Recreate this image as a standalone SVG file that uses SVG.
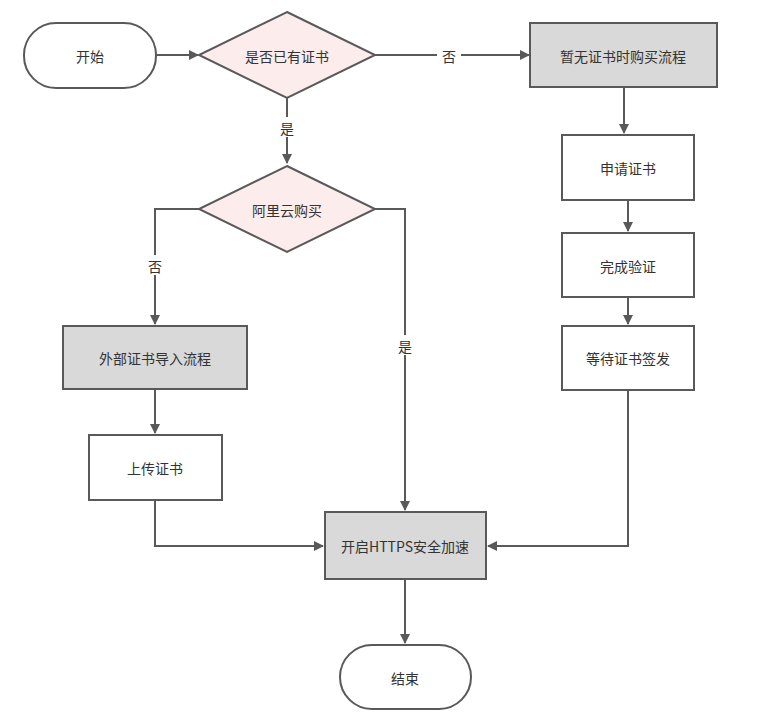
<svg xmlns="http://www.w3.org/2000/svg" width="780" height="719" viewBox="0 0 780 719">
<style>
.s{stroke:#595959;stroke-width:2}
.w{fill:#fff}.g{fill:#d9d9d9}.d{fill:#fdecec}
text{font-family:"Noto Sans CJK SC","Liberation Sans",sans-serif;font-size:14px;fill:#333;text-anchor:middle;dominant-baseline:central}
.c{fill:none;stroke:#595959;stroke-width:2;marker-end:url(#a)}
.l{fill:#fff}
</style>
<defs><marker id="a" markerWidth="10" markerHeight="10" refX="9" refY="5" orient="auto" markerUnits="userSpaceOnUse"><path d="M0,0L10,5L0,10z" fill="#595959"/></marker></defs>
<rect width="780" height="719" fill="#fff"/>
<g id="connectors">
<path class="c" d="M156,55H198"/>
<path class="c" d="M375,55H529"/>
<path class="c" d="M287,98V163"/>
<path class="c" d="M199,209H155V324"/>
<path class="c" d="M375,209H405V510"/>
<path class="c" d="M155,389V433"/>
<path class="c" d="M155,500V546H323"/>
<path class="c" d="M624,87V133"/>
<path class="c" d="M628,200V231"/>
<path class="c" d="M628,297V324"/>
<path class="c" d="M628,390V546H488"/>
<path class="c" d="M405,579V643"/>
<rect class="l" x="437" y="45" width="24" height="20"/><text x="449" y="56">否</text>
<rect class="l" x="276" y="117" width="22" height="20"/><text x="287" y="128">是</text>
<rect class="l" x="144" y="255" width="22" height="20"/><text x="155" y="266">否</text>
<rect class="l" x="394" y="335" width="22" height="20"/><text x="405" y="346">是</text>
</g>
<g id="start"><rect class="s w" x="24" y="23" width="132" height="65" rx="32"/><text x="90" y="56">开始</text></g>
<g id="q1"><path class="s d" d="M287,12L375,55L287,98L199,55z"/><text x="287" y="56">是否已有证书</text></g>
<g id="buy"><rect class="s g" x="530" y="23" width="187" height="64"/><text x="623" y="56">暂无证书时购买流程</text></g>
<g id="q2"><path class="s d" d="M287,166L375,209L287,252L199,209z"/><text x="287" y="210">阿里云购买</text></g>
<g id="import"><rect class="s g" x="63" y="326" width="184" height="63"/><text x="155" y="358">外部证书导入流程</text></g>
<g id="upload"><rect class="s w" x="89" y="435" width="133" height="65"/><text x="155" y="468">上传证书</text></g>
<g id="apply"><rect class="s w" x="562" y="135" width="132" height="65"/><text x="628" y="168">申请证书</text></g>
<g id="verify"><rect class="s w" x="562" y="233" width="132" height="64"/><text x="628" y="266">完成验证</text></g>
<g id="wait"><rect class="s w" x="562" y="326" width="132" height="64"/><text x="628" y="358">等待证书签发</text></g>
<g id="https"><rect class="s g" x="325" y="512" width="161" height="67"/><text x="405" y="546">开启HTTPS安全加速</text></g>
<g id="end"><rect class="s w" x="340" y="645" width="131" height="64" rx="32"/><text x="405" y="678">结束</text></g>
</svg>
